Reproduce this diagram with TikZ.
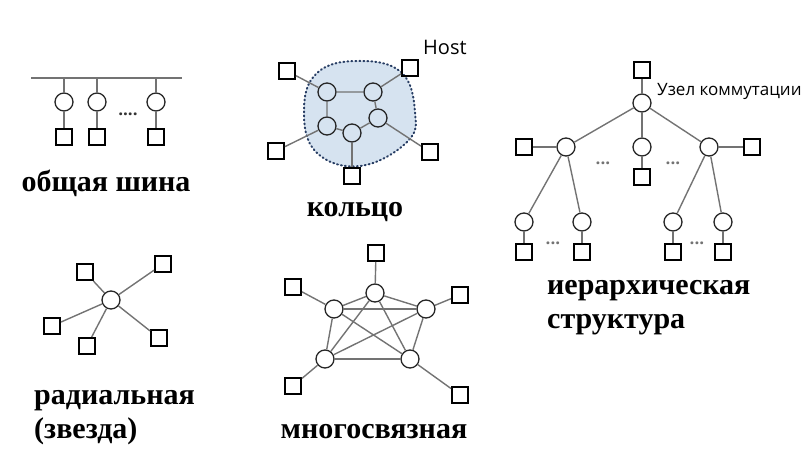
\documentclass[tikz,border=0pt]{standalone}
\usepackage{fontspec}
\setmainfont{Liberation Serif}
\newfontfamily\notefont{Open Sans}
\definecolor{ringfill}{RGB}{214,227,240}
\definecolor{ringline}{RGB}{40,62,100}
\definecolor{wire}{RGB}{115,115,115}

\begin{document}
\begin{tikzpicture}[x=1pt, y=-1pt,
		host/.style={draw, line width=2pt, minimum size=16pt, inner sep=0pt},
		hub/.style={draw, circle, line width=1.3pt, draw=black!85, minimum size=18pt, inner sep=0pt},
		link/.style={wire, line width=1.4pt},
		title/.style={font=\bfseries\fontsize{30}{34}\selectfont, align=left, inner sep=0pt},
		note/.style={font=\notefont\fontsize{17}{20}\selectfont, inner sep=0pt},
		gap/.style={font=\notefont\bfseries\fontsize{17}{17}\selectfont, text=wire, inner sep=0pt}]
	\useasboundingbox (0,0) rectangle (812,468);

	% общая шина
	\coordinate (busL) at (31,78);
	\coordinate (busR) at (182,78);
	\draw[link] (busL) -- (busR);
	\node[hub] (b1) at (64,102) {};
	\node[hub] (b2) at (97,102) {};
	\node[hub] (b3) at (156,102) {};
	\node[host] (bh1) at (64,137) {};
	\node[host] (bh2) at (97,137) {};
	\node[host] (bh3) at (156,137) {};
	\draw[link] (b1) -- (b1 |- busL);
	\draw[link] (b2) -- (b2 |- busL);
	\draw[link] (b3) -- (b3 |- busL);
	\draw[link] (b1) -- (bh1);
	\draw[link] (b2) -- (bh2);
	\draw[link] (b3) -- (bh3);
	\node[gap, text=black!80] (bdots) at (128,114) {....};
	\node[title] (bustext) at (106,183) {общая шина};

	% кольцо
	\draw[ringline, fill=ringfill, line width=2pt, line cap=round, dash pattern=on 1pt off 3pt]
		plot[smooth cycle, tension=0.7]
		coordinates {(357,61) (401,72) (415,112) (407,142) (360,166) (316,152) (304,110) (317,73)};
	\node[hub] (r1) at (327,92) {};
	\node[hub] (r2) at (373,92) {};
	\node[hub] (r3) at (378,118) {};
	\node[hub] (r4) at (352,133) {};
	\node[hub] (r5) at (327,126) {};
	\node[host] (rh1) at (287,71) {};
	\node[host] (rh2) at (410,68) {};
	\node[host] (rh3) at (430,152) {};
	\node[host] (rh4) at (352,176) {};
	\node[host] (rh5) at (276,151) {};
	\draw[link] (r1) -- (r2) -- (r3) -- (r4) -- (r5) -- (r1);
	\draw[link] (r1) -- (rh1);
	\draw[link] (r2) -- (rh2);
	\draw[link] (r3) -- (rh3);
	\draw[link] (r4) -- (rh4);
	\draw[link] (r5) -- (rh5);
	\node[note, anchor=west, font=\notefont\fontsize{20}{22}\selectfont] (hosttext) at (423,47) {Host};
	\node[title] (ringtext) at (355,212) {кольцо};

	% иерархическая структура
	\node[host] (th0) at (642,70) {};
	\node[hub] (t0) at (642,103) {};
	\node[hub] (tl) at (566,147) {};
	\node[hub] (tm) at (642,147) {};
	\node[hub] (tr) at (709,147) {};
	\node[host] (thl) at (524,147) {};
	\node[host] (thm) at (642,177) {};
	\node[host] (thr) at (752,147) {};
	\node[hub] (t1) at (524,222) {};
	\node[hub] (t2) at (582,222) {};
	\node[hub] (t3) at (673,222) {};
	\node[hub] (t4) at (723,222) {};
	\node[host] (th1) at (524,252) {};
	\node[host] (th2) at (582,252) {};
	\node[host] (th3) at (673,252) {};
	\node[host] (th4) at (723,252) {};
	\draw[link] (th0) -- (t0);
	\draw[link] (t0) -- (tl);
	\draw[link] (t0) -- (tm);
	\draw[link] (t0) -- (tr);
	\draw[link] (thl) -- (tl);
	\draw[link] (tm) -- (thm);
	\draw[link] (tr) -- (thr);
	\draw[link] (tl) -- (t1);
	\draw[link] (tl) -- (t2);
	\draw[link] (tr) -- (t3);
	\draw[link] (tr) -- (t4);
	\draw[link] (t1) -- (th1);
	\draw[link] (t2) -- (th2);
	\draw[link] (t3) -- (th3);
	\draw[link] (t4) -- (th4);
	\node[gap] (tdots1) at (603,163) {...};
	\node[gap] (tdots2) at (673,163) {...};
	\node[gap] (tdots3) at (553,243) {...};
	\node[gap] (tdots4) at (697,243) {...};
	\node[note, anchor=west] (switchtext) at (657,91) {Узел коммутации};
	\node[title, anchor=north west] (treetext) at (547,280) {иерархическая\\структура};

	% радиальная (звезда)
	\node[hub] (s0) at (111,300) {};
	\node[host] (sh1) at (85,272) {};
	\node[host] (sh2) at (163,264) {};
	\node[host] (sh3) at (52,326) {};
	\node[host] (sh4) at (87,346) {};
	\node[host] (sh5) at (159,338) {};
	\foreach \i in {1,...,5}
		\draw[link] (s0) -- (sh\i);
	\node[title, anchor=north west] (startext) at (34,390) {радиальная\\(звезда)};

	% многосвязная
	\node[hub] (m1) at (375,293) {};
	\node[hub] (m2) at (426,309) {};
	\node[hub] (m3) at (410,359) {};
	\node[hub] (m4) at (325,359) {};
	\node[hub] (m5) at (334,309) {};
	\node[host] (mh1) at (376,253) {};
	\node[host] (mh2) at (460,295) {};
	\node[host] (mh3) at (460,395) {};
	\node[host] (mh4) at (293,386) {};
	\node[host] (mh5) at (293,287) {};
	\foreach \i/\j in {1/2,1/3,1/4,1/5,2/3,2/4,2/5,3/4,3/5,4/5}
		\draw[link] (m\i) -- (m\j);
	\foreach \i in {1,...,5}
		\draw[link] (m\i) -- (mh\i);
	\node[title] (meshtext) at (374,432) {многосвязная};
\end{tikzpicture}
\end{document}
